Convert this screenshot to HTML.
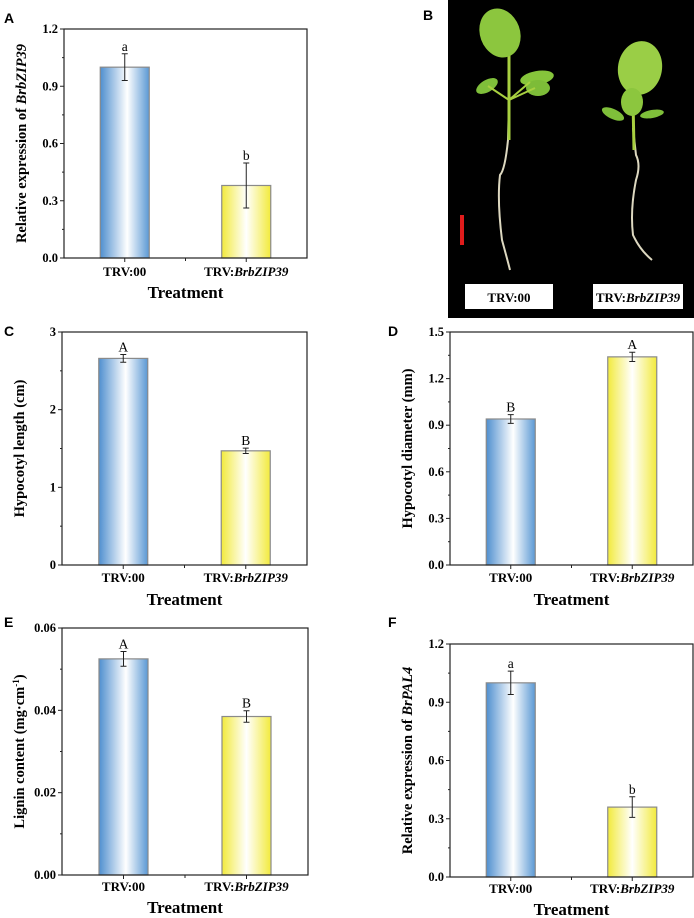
<!DOCTYPE html>
<html><head><meta charset="utf-8">
<style>
html,body{margin:0;padding:0;background:#fff;}
svg{display:block;}
.tick{font-family:"Liberation Serif",serif;font-weight:bold;font-size:12.5px;}
.ttl{font-family:"Liberation Serif",serif;font-weight:bold;font-size:14.5px;}
.xt{font-family:"Liberation Serif",serif;font-weight:bold;font-size:17px;}
.sig{font-family:"Liberation Serif",serif;font-size:13.5px;}
.pl{font-family:"Liberation Sans",sans-serif;font-weight:bold;font-size:14px;}
</style></head>
<body>
<svg id="fig" width="694" height="918" viewBox="0 0 694 918" xmlns="http://www.w3.org/2000/svg">
<defs>
<linearGradient id="gBlue" x1="0" x2="1" y1="0" y2="0">
<stop offset="0" stop-color="#4f8fcf"/><stop offset="0.55" stop-color="#ffffff"/><stop offset="1" stop-color="#5a98d4"/></linearGradient>
<linearGradient id="gYel" x1="0" x2="1" y1="0" y2="0">
<stop offset="0" stop-color="#f2ea3c"/><stop offset="0.5" stop-color="#ffffff"/><stop offset="1" stop-color="#f2ea3c"/></linearGradient>
</defs>
<g>
<rect x="448" y="0" width="246" height="318" fill="#000"/>
<text class="pl" x="423" y="20">B</text>
<path d="M509 100 L508 140 Q505 170 500 175 Q497 200 502 240 Q508 262 510 270" stroke="#ddd8c0" stroke-width="2" fill="none"/>
<path d="M509 55 L509 140" stroke="#a8d040" stroke-width="3" fill="none"/>
<ellipse cx="500" cy="33" rx="20" ry="25" fill="#8cc63e" transform="rotate(-20 500 33)"/>
<ellipse cx="487" cy="86" rx="12" ry="6" fill="#7fbf3a" transform="rotate(-30 487 86)"/>
<ellipse cx="537" cy="78" rx="17" ry="7" fill="#86c53b" transform="rotate(-10 537 78)"/>
<ellipse cx="538" cy="88" rx="12" ry="8" fill="#7dbc38"/>
<path d="M509 100 L488 86 M509 100 L530 82 M509 100 L535 88" stroke="#a8d040" stroke-width="2"/>
<path d="M633 128 L636 155 Q641 165 636 180 Q630 210 633 235 Q640 250 652 260" stroke="#ddd8c0" stroke-width="2" fill="none"/>
<path d="M633 100 L634 150" stroke="#a8d040" stroke-width="3"/>
<ellipse cx="640" cy="68" rx="22" ry="27" fill="#9ace46" transform="rotate(10 640 68)"/>
<ellipse cx="632" cy="102" rx="11" ry="14" fill="#8cc63e"/>
<ellipse cx="613" cy="114" rx="12" ry="5" fill="#7fbf3a" transform="rotate(25 613 114)"/>
<ellipse cx="652" cy="114" rx="12" ry="4" fill="#7fbf3a" transform="rotate(-10 652 114)"/>
<rect x="460" y="215" width="4" height="30" fill="#e01c1c"/>
<rect x="465" y="284" width="88" height="25" fill="#fff"/>
<text x="509" y="302" text-anchor="middle" class="tick" style="font-size:13px">TRV:00</text>
<rect x="593" y="284" width="90" height="25" fill="#fff"/>
<text x="638" y="302" text-anchor="middle" class="tick" style="font-size:13px">TRV:<tspan font-style="italic">BrbZIP39</tspan></text>
</g>
</svg>
<script>
const categories = ["TRV:00", "TRV:BrbZIP39"];
const aValues = [1.0, 0.38];
const aErrors = [0.07, 0.118];
const aLetters = ["a", "b"];
const aTicks = ["0.0", "0.3", "0.6", "0.9", "1.2"];
const cValues = [2.66, 1.47];
const cErrors = [0.05, 0.035];
const cLetters = ["A", "B"];
const cTicks = ["0", "1", "2", "3"];
const dValues = [0.94, 1.34];
const dErrors = [0.028, 0.03];
const dLetters = ["B", "A"];
const dTicks = ["0.0", "0.3", "0.6", "0.9", "1.2", "1.5"];
const eValues = [0.0525, 0.0385];
const eErrors = [0.0018, 0.0014];
const eLetters = ["A", "B"];
const eTicks = ["0.00", "0.02", "0.04", "0.06"];
const fValues = [1.0, 0.36];
const fErrors = [0.06, 0.053];
const fLetters = ["a", "b"];
const fTicks = ["0.0", "0.3", "0.6", "0.9", "1.2"];

const NS = "http://www.w3.org/2000/svg";
const svg = document.getElementById("fig");
function mk(tag, attrs, parent) {
  const e = document.createElementNS(NS, tag);
  for (const k in attrs) e.setAttribute(k, attrs[k]);
  (parent || svg).appendChild(e);
  return e;
}
function panel(id, L, R, T, B, values, errors, letters, ticks, title, labelPos, xLabY, trY) {
  const g = mk("g", {});
  
  
  const tmin = parseFloat(ticks[0]), tmax = parseFloat(ticks[ticks.length - 1]);
  const y = v => B - (v - tmin) / (tmax - tmin) * (B - T);
  const xc = i => L + (R - L) * (i === 0 ? 0.25 : 0.75);
  const bw = 49;
  const pl = mk("text", {x: labelPos[0], y: labelPos[1], class: "pl"}, g);
  pl.textContent = id.toUpperCase();
  
  
  values.forEach((v, i) => {
    const b = mk("rect", {x: xc(i) - bw / 2, y: y(v), width: bw, height: B - y(v), fill: i === 0 ? "url(#gBlue)" : "url(#gYel)", stroke: "#8a8a8a", "stroke-width": 1.2}, g);
    
    
    const e = errors[i], x = xc(i);
    const eb = mk("path", {d: `M${x} ${y(v + e)}V${y(v - e)}M${x - 3} ${y(v + e)}h6M${x - 3} ${y(v - e)}h6`, stroke: "#222", "stroke-width": 1, fill: "none"}, g);
    
    
    const s = mk("text", {x: x, y: y(v + e) - 3, "text-anchor": "middle", class: "sig"}, g);
    s.textContent = letters[i];
    
    
    const xl = mk("text", {x: x, y: xLabY, "text-anchor": "middle", class: "tick", style: "font-size:13px"}, g);
    if (i === 0) xl.textContent = categories[0];
    else { xl.textContent = "TRV:"; const ts = mk("tspan", {"font-style": "italic"}, xl); ts.textContent = categories[1].split(":")[1]; }
    
    
    mk("line", {x1: x, x2: x, y1: B, y2: B + 4, stroke: "#222"}, g);
  });
  mk("line", {x1: (L + R) / 2, x2: (L + R) / 2, y1: B, y2: B + 3, stroke: "#222"}, g);
  ticks.forEach((t, i) => {
    const yy = y(parseFloat(t));
    mk("line", {x1: L - 4, x2: L, y1: yy, y2: yy, stroke: "#222"}, g);
    if (i < ticks.length - 1) {
      const ym = y((parseFloat(t) + parseFloat(ticks[i + 1])) / 2);
      mk("line", {x1: L - 2, x2: L, y1: ym, y2: ym, stroke: "#222"}, g);
    }
    const tl = mk("text", {x: L - 6, y: yy + 4, "text-anchor": "end", class: "tick"}, g);
    tl.textContent = t;
    
    
  });
  const fr = mk("rect", {x: L, y: T, width: R - L, height: B - T, fill: "none", stroke: "#222", "stroke-width": 1.2}, g);
  
  
  const tx = L - 38, ty = (T + B) / 2;
  const yt = mk("text", {x: tx, y: ty, "text-anchor": "middle", class: "ttl", transform: `rotate(-90 ${tx} ${ty})`}, g);
  title.forEach(p => { const ts = mk("tspan", p[1] ? {"font-style": "italic"} : {}, yt); ts.textContent = p[0]; if (p[2]) { ts.setAttribute("baseline-shift", "super"); ts.setAttribute("font-size", "9px"); } });
  
  
  const xt = mk("text", {x: (L + R) / 2, y: trY, "text-anchor": "middle", class: "xt"}, g);
  xt.textContent = "Treatment";
  
  
}
panel("a", 64, 307, 29, 258, aValues, aErrors, aLetters, aTicks, [["Relative expression of "], ["BrbZIP39", true]], [4, 23], 276, 298);
panel("c", 62, 307, 332, 565, cValues, cErrors, cLetters, cTicks, [["Hypocotyl length (cm)"]], [4, 336], 582, 605);
panel("d", 450, 693, 332, 565, dValues, dErrors, dLetters, dTicks, [["Hypocotyl diameter (mm)"]], [388, 336], 582, 605);
panel("e", 62, 308, 628, 875, eValues, eErrors, eLetters, eTicks, [["Lignin content (mg·cm"], ["-1", false, true], [")"]], [4, 627], 891, 913);
panel("f", 450, 693, 644, 877, fValues, fErrors, fLetters, fTicks, [["Relative expression of "], ["BrPAL4", true]], [388, 627], 893, 915);
</script>
</body></html>
